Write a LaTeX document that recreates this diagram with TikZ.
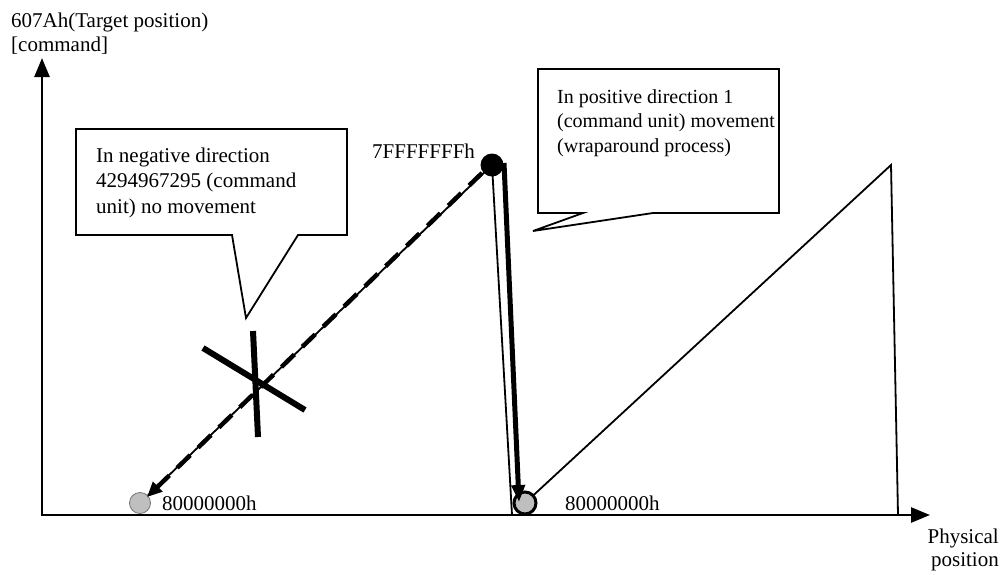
\documentclass[tikz,border=0pt]{standalone}
\usepackage{fontspec}
\setmainfont{Liberation Serif}
\usetikzlibrary{arrows.meta}
\begin{document}
\begin{tikzpicture}[x=1pt,y=-1pt,
  txt/.style={font=\fontsize{21}{25.5}\selectfont, inner sep=0pt, anchor=base west, align=left},
  axis/.style={line width=2.6pt, -{Triangle[width=15pt,length=19pt]}},
  thinline/.style={line width=1.8pt, line join=miter},
  callout/.style={draw, line width=1.8pt, fill=white, line join=miter},
  greydot/.style={circle, fill=black!25, draw=black!55, line width=0.8pt, minimum size=21pt, inner sep=0pt},
  greydotb/.style={circle, fill=black!25, draw=black, line width=3pt, minimum size=22pt, inner sep=0pt},
  blackdot/.style={circle, fill=black, minimum size=23pt, inner sep=0pt},
  dasharrow/.style={line width=4.5pt, dash pattern=on 18pt off 11pt, -{Triangle[width=13pt,length=15pt]}},
  thickarrow/.style={line width=5pt, -{Triangle[width=13pt,length=17pt]}},
  crossbar/.style={line width=6pt}
]
\useasboundingbox (0,0) rectangle (1000,574);
% axes
\coordinate (O) at (42,515);
\coordinate (Ytip) at (42,58);
\coordinate (Xtip) at (930,515);
\draw[axis] (O) -- (Ytip);
\draw[axis] ([xshift=-1.3pt]O) -- (Xtip);
\node[txt, font=\fontsize{21}{24}\selectfont] (ylab) at (11,51) {607Ah(Target position)\\{[}command{]}};
\node[txt, font=\fontsize{21}{23}\selectfont, align=right, anchor=base east] (xlab) at (999,566) {Physical\\position};
% callouts
\draw[callout] (76,129) -- (347,129) -- (347,235) -- (298,235) -- (246,318) -- (232,235) -- (76,235) -- cycle;
\node[txt] (t1) at (96,213) {In negative direction\\4294967295 (command\\unit) no movement};
\draw[callout] (538,69) -- (779,69) -- (779,213) -- (653,213) -- (533,231) -- (583,213) -- (538,213) -- cycle;
\node[txt, font=\fontsize{20}{24.5}\selectfont] (t2) at (557,152) {In positive direction 1\\(command unit) movement\\(wraparound process)};
% sawtooth
\coordinate (p1) at (140,503);
\coordinate (ptop) at (492,165);
\coordinate (drop) at (512,515);
\coordinate (p2) at (525,503);
\coordinate (peak) at (891,165);
\coordinate (pend) at (898,515);
\draw[thinline] (p1) -- (ptop) -- (drop);
\draw[thinline] (p2) -- (peak) -- (pend);
\node[greydot] (c1) at (p1) {};
\node[greydotb] (c2) at (p2) {};
% dashed arrow
\coordinate (da1) at (482,173);
\coordinate (da2) at (147,497);
\draw[dasharrow] (da1) -- (da2);
% cross
\coordinate (x1) at (203,348);
\coordinate (x2) at (305,410);
\coordinate (x3) at (253,331);
\coordinate (x4) at (258,437);
\draw[crossbar] (x1) -- (x2);
\draw[crossbar] (x3) -- (x4);
% thick arrow
\node[blackdot] (top) at (ptop) {};
\coordinate (ta1) at (504,163);
\coordinate (ta2) at (519,502);
\draw[thickarrow] (ta1) -- (ta2);
% labels
\node[txt] (lt) at (372,158) {7FFFFFFFh};
\node[txt] (l1) at (162,510) {80000000h};
\node[txt] (l2) at (565,510) {80000000h};
\end{tikzpicture}
\end{document}
